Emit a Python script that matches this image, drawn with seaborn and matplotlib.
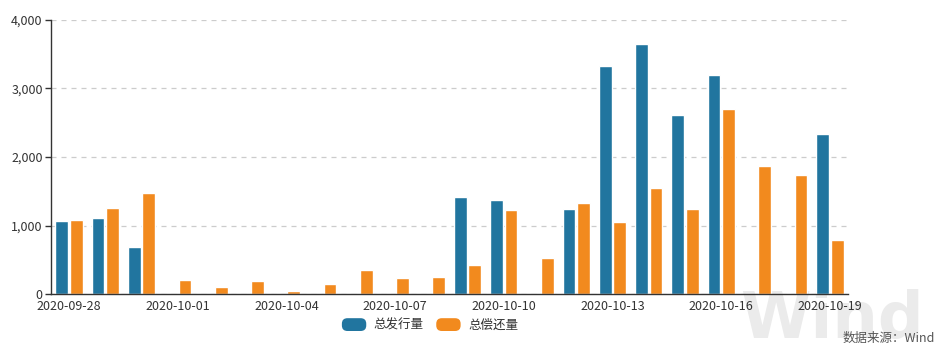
import matplotlib
matplotlib.use("Agg")
import matplotlib.pyplot as plt
from matplotlib.patches import FancyBboxPatch, Patch
from matplotlib.legend_handler import HandlerPatch
from matplotlib.ticker import FuncFormatter, FixedLocator
import numpy as np
import pandas as pd
import seaborn as sns

# Daily bond issuance and repayment (亿元)
dates = pd.date_range("2020-09-28", "2020-10-19", freq="D").strftime("%Y-%m-%d").tolist()
issuance = [1066, 1114, 681, 0, 0, 0, 0, 0, 0, 0, 0, 1411, 1377, 0, 1236,
            3333, 3650, 2613, 3202, 0, 0, 2331]
repayment = [1085, 1251, 1479, 204, 97, 190, 44, 151, 350, 238, 248, 423, 1226, 530, 1328,
             1051, 1547, 1236, 2701, 1869, 1742, 788]
series_names = ["总发行量", "总偿还量"]
colors = ["#21759f", "#f28a1e"]

df = pd.DataFrame({
    "date": dates * 2,
    "value": issuance + repayment,
    "series": [series_names[0]] * len(dates) + [series_names[1]] * len(dates),
})

sns.set_theme(style="white")
plt.rcParams["font.family"] = ["Noto Sans CJK SC", "DejaVu Sans"]

fig = plt.figure(figsize=(9.43, 3.48), dpi=100)
ax = fig.add_axes([51 / 943, 1 - 294 / 348, (848 - 51) / 943, (294 - 20) / 348])
ax.patch.set_alpha(0)

sns.barplot(data=df, x="date", y="value", hue="series", palette=colors,
            width=0.8, gap=0.12, saturation=1, ax=ax, legend=False)

ax.set_xlim(-0.5, len(dates) - 0.5)
ax.set_ylim(0, 4000)
ax.set_xlabel("")
ax.set_ylabel("")

# category labels every third day, tick marks on category boundaries
label_idx = list(range(0, len(dates), 3))
ax.set_xticks(label_idx)
ax.set_xticklabels([dates[i] for i in label_idx], fontsize=9, color="#333333")
ax.tick_params(axis="x", which="major", length=0, pad=4)
ax.xaxis.set_minor_locator(FixedLocator([i + 1.5 for i in range(0, len(dates) - 2, 3)]))
ax.tick_params(axis="x", which="minor", length=4, width=1, color="#333333", direction="out")

ax.set_yticks([0, 1000, 2000, 3000, 4000])
ax.yaxis.set_major_formatter(FuncFormatter(lambda v, p: f"{int(v):,}"))
ax.tick_params(axis="y", length=4, width=1, color="#333333", labelsize=9,
               labelcolor="#333333", pad=2, left=True)

ax.grid(axis="y", linestyle=(0, (4, 4)), color="#cccccc", linewidth=0.9)
ax.set_axisbelow(True)
for s in ["top", "right"]:
    ax.spines[s].set_visible(False)
for s in ["left", "bottom"]:
    ax.spines[s].set_color("#333333")
    ax.spines[s].set_linewidth(1)


class RoundHandler(HandlerPatch):
    def create_artists(self, legend, orig_handle, xdescent, ydescent, width, height, fontsize, trans):
        p = FancyBboxPatch((-xdescent, -ydescent), width, height,
                           boxstyle="round,pad=0,rounding_size=4",
                           facecolor=orig_handle.get_facecolor(), edgecolor="none",
                           transform=trans)
        return [p]


handles = [Patch(facecolor=c, label=n) for c, n in zip(colors, series_names)]
fig.legend(handles=handles, loc="center", bbox_to_anchor=(430 / 943, 1 - 325 / 348),
           ncol=2, frameon=False, fontsize=9, handlelength=1.95, handleheight=1.2,
           columnspacing=1.0, handletextpad=0.6, labelcolor="#333333",
           handler_map={Patch: RoundHandler()})

# faint source watermark in the lower right corner
fig.text(740 / 943, 1 - 338 / 348, "Wind", fontsize=46, fontweight="bold", color="#ebebeb",
         ha="left", va="baseline", zorder=-1, family="DejaVu Sans")
fig.text(935 / 943, 1 - 338 / 348, "数据来源：Wind", fontsize=9, color="#555555",
         ha="right", va="center")

fig.savefig("out.png", dpi=100)
